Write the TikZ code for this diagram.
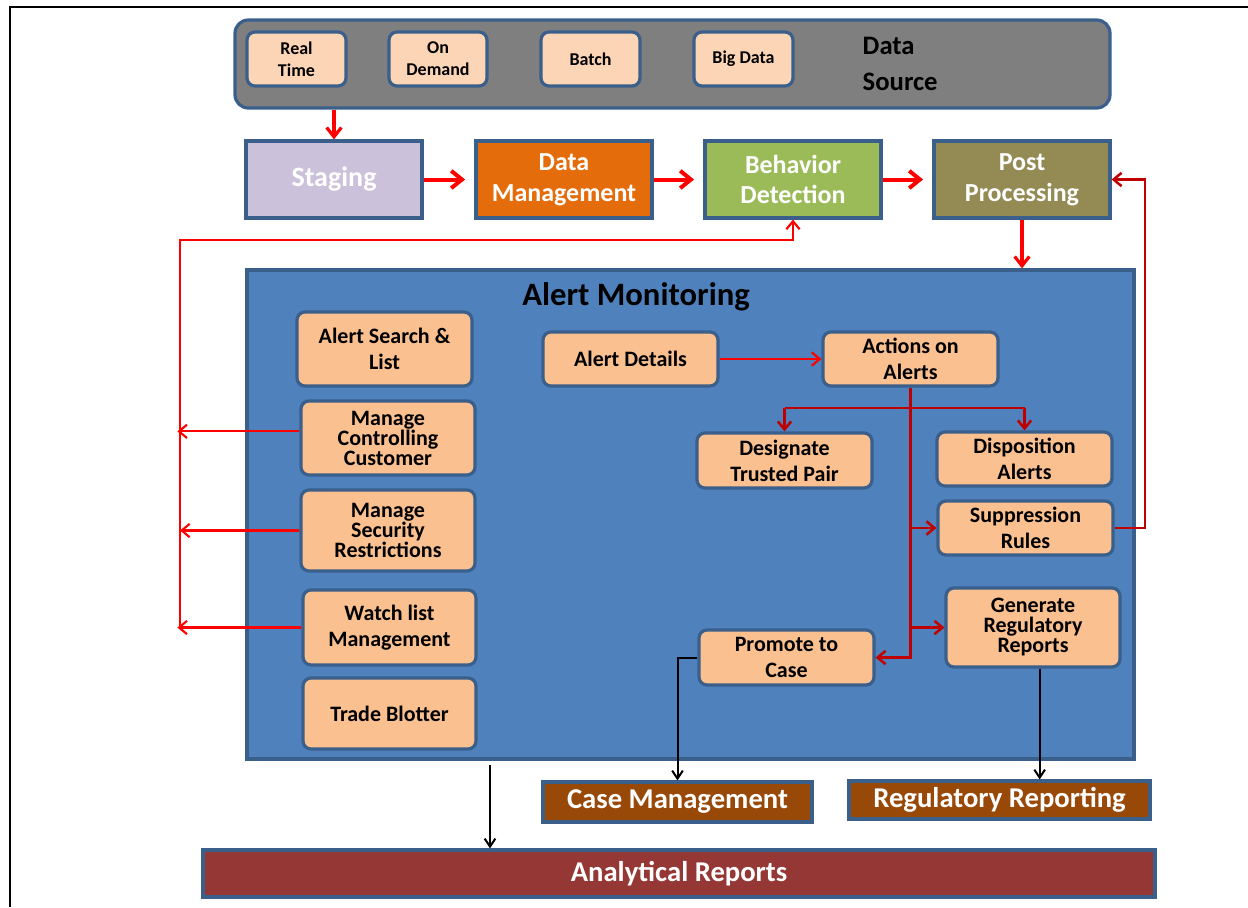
\documentclass[tikz,border=0pt]{standalone}
\usepackage{fontspec}
\setmainfont{Carlito}
\usetikzlibrary{arrows.meta}
\definecolor{bord}{HTML}{3A5F8B}
\definecolor{dsgray}{HTML}{7F7F7F}
\definecolor{lpeach}{HTML}{FBD5B5}
\definecolor{peach}{HTML}{FAC090}
\definecolor{stagec}{HTML}{CCC1DA}
\definecolor{dmc}{HTML}{E46C0A}
\definecolor{bdc}{HTML}{9BBB59}
\definecolor{ppc}{HTML}{948A54}
\definecolor{amc}{HTML}{4F81BD}
\definecolor{brownc}{HTML}{984807}
\definecolor{arc}{HTML}{953735}
\definecolor{dred}{HTML}{C00000}
\newcommand{\mkbox}[7]{%
  \node[#1,minimum width={(#5-#3)*0.75pt},minimum height={(#6-#4)*0.75pt}]
    (#2) at ({(#3+#5)/2},{(#4+#6)/2}) {#7};}
\begin{document}
\begin{tikzpicture}[x=0.75pt,y=-0.75pt,
  base/.style={draw=bord,line width=2.4pt,inner sep=0pt,align=center},
  small/.style={base,fill=lpeach,rounded corners=6pt,font=\fontsize{13.5}{16.5}\selectfont\bfseries},
  peachbox/.style={base,fill=peach,rounded corners=6pt,font=\fontsize{16.5}{19.5}\selectfont\bfseries},
  tight/.style={font=\fontsize{16.5}{15}\selectfont\bfseries},
  flow/.style={base,text=white,font=\fontsize{19.5}{23}\selectfont\bfseries},
  outbox/.style={base,text=white,font=\fontsize{21.5}{24}\selectfont\bfseries},
  redthick/.style={draw=red,line width=3pt,-{Straight Barb[length=8pt,width=13pt]}},
  redmid/.style={draw=red,line width=2.4pt,-{Straight Barb[length=7pt,width=11pt]}},
  redthin/.style={draw=red,line width=1.6pt,-{Straight Barb[length=6pt,width=10pt]}},
  dredline/.style={draw=dred,line width=1.9pt},
  dredarr/.style={dredline,-{Straight Barb[length=6pt,width=10pt]}},
  blk/.style={draw=black,line width=1.5pt,-{Straight Barb[length=6pt,width=8pt]}}
]
\useasboundingbox (0,0) rectangle (1248,907);
% frame
\draw[line width=2.2pt] (9,7) -- (1248,7);
\draw[line width=2.2pt] (10,7) -- (10,907);

% data source
\mkbox{base,fill=dsgray,rounded corners=10pt}{ds}{235}{20}{1110}{108}{}
\mkbox{small}{rt}{247}{32}{346}{86}{Real\\Time}
\mkbox{small}{od}{389}{32}{487}{86}{On\\Demand}
\mkbox{small}{bt}{541}{32}{640}{86}{Batch}
\mkbox{small}{bg}{694}{32}{793}{86}{Big Data}
\node[anchor=west,align=left,font=\fontsize{20}{27}\selectfont\bfseries] (dst) at (858,64) {Data\\Source};

% flow
\mkbox{flow,fill=stagec,font=\fontsize{21}{25}\selectfont\bfseries}{stg}{246}{141}{422}{218}{Staging}
\mkbox{flow,fill=dmc}{dm}{476}{141}{652}{218}{Data\\Management}
\mkbox{flow,fill=bdc}{bd}{705}{141}{881}{218}{Behavior\\Detection}
\mkbox{flow,fill=ppc}{pp}{934}{141}{1110}{218}{Post\\Processing}

% alert monitoring
\mkbox{base,fill=amc,draw=bord}{am}{247}{270}{1134}{759}{}
\node[font=\fontsize{24.5}{28}\selectfont\bfseries] (amt) at (636,297) {Alert Monitoring};

\mkbox{peachbox}{asl}{297}{312}{472}{386}{Alert Search \&\\List}
\mkbox{peachbox,tight}{mcc}{301}{401}{475}{475}{Manage\\Controlling\\Customer}
\mkbox{peachbox,tight}{msr}{301}{490}{475}{571}{Manage\\Security\\Restrictions}
\mkbox{peachbox}{wlm}{303}{590}{476}{665}{Watch list\\Management}
\mkbox{peachbox}{tb}{303}{678}{476}{749}{Trade Blotter}
\mkbox{peachbox}{ad}{543}{332}{718}{386}{Alert Details}
\mkbox{peachbox}{aoa}{823}{332}{998}{386}{Actions on\\Alerts}
\mkbox{peachbox}{dtp}{697}{433}{872}{488}{Designate\\Trusted Pair}
\mkbox{peachbox}{dal}{937}{432}{1112}{486}{Disposition\\Alerts}
\mkbox{peachbox}{sr}{938}{501}{1113}{555}{Suppression\\Rules}
\mkbox{peachbox,tight}{grr}{946}{588}{1120}{667}{Generate\\Regulatory\\Reports}
\mkbox{peachbox}{ptc}{699}{630}{874}{685}{Promote to\\Case}

% outputs
\mkbox{outbox,fill=brownc}{cm}{543}{782}{812}{822}{Case Management}
\mkbox{outbox,fill=brownc}{rr}{849}{781}{1150}{819}{Regulatory Reporting}
\mkbox{outbox,fill=arc}{ar}{203}{850}{1155}{897}{Analytical Reports}

% coordinates
\coordinate (lx) at (180,240);
\coordinate (rx) at (1145,0);
\coordinate (br) at (0,408);
\coordinate (ax) at (490,0);

% top flow arrows
\draw[redmid] (ds.south -| stg.north) -- (stg.north);
\draw[redthick,shorten >=7pt] (stg.east) -- (dm.west);
\draw[redthick,shorten >=7pt] (dm.east) -- (bd.west);
\draw[redthick,shorten >=7pt] (bd.east) -- (pp.west);
\draw[redmid] (pp.south) -- (pp.south |- am.north);

% left feedback
\draw[redthin] (lx |- wlm.west) -- (lx) -- (lx -| bd.south) -- (bd.south);
\draw[redthin,shorten >=-2pt] ([yshift=5pt]mcc.west) -- ([yshift=5pt]mcc.west -| lx);
\draw[redthin] (msr.west) -- (msr.west -| lx);
\draw[redthin,shorten >=-2pt] (wlm.west) -- (wlm.west -| lx);

% right feedback
\draw[dredarr] (sr.east) -- (sr.east -| rx) -- (pp.east -| rx) -- (pp.east);

% inside alert monitoring
\draw[redthin] (ad.east) -- (aoa.west);
\draw[dredarr] (aoa.south) -- (aoa.south |- ptc.east) -- (ptc.east);
\draw[dredline] (dtp.north |- br) -- (dal.north |- br);
\draw[dredarr] (dtp.north |- br) -- (dtp.north);
\draw[dredarr] (dal.north |- br) -- (dal.north);
\draw[dredarr] (aoa.south |- sr.west) -- (sr.west);
\draw[dredarr] (aoa.south |- grr.west) -- (grr.west);

% black connectors
\draw[blk] (ptc.west) -| (cm.north);
\draw[blk] ([xshift=5pt]grr.south) -- ([xshift=5pt]grr.south |- rr.north);
\draw[blk] ([yshift=-3pt]am.south -| ax) -- (ar.north -| ax);
\end{tikzpicture}
\end{document}
